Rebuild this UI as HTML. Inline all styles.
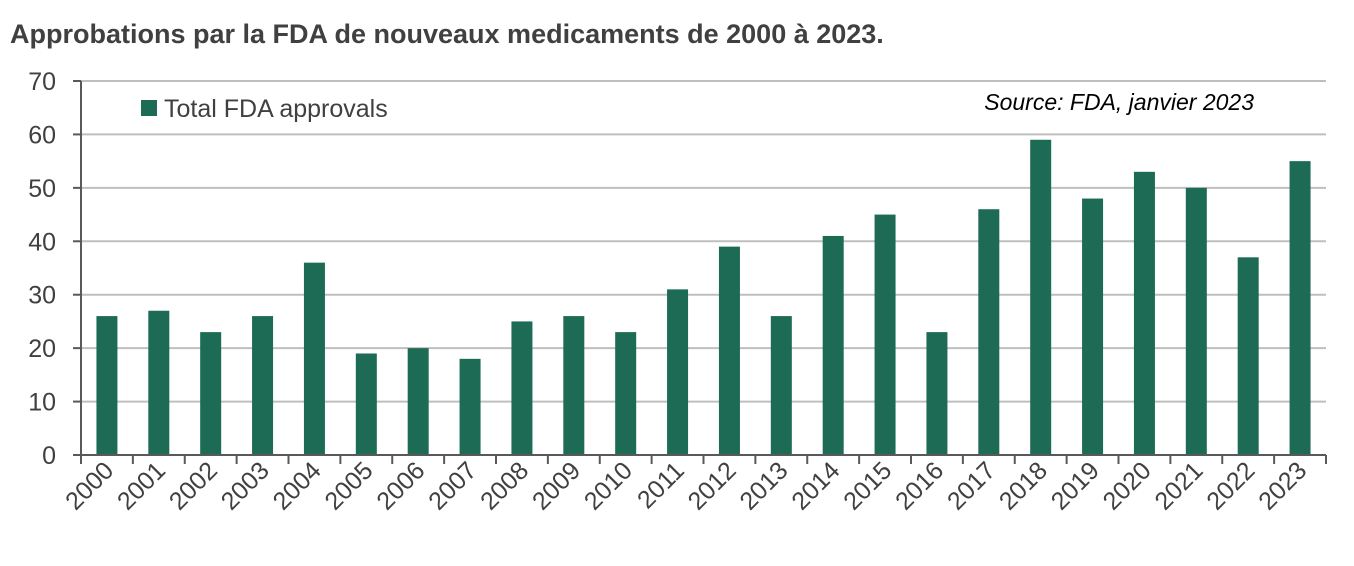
<!DOCTYPE html>
<html><head><meta charset="utf-8"><style>
body{margin:0;background:#fff;width:1354px;height:561px;overflow:hidden;font-family:"Liberation Sans",Arial,sans-serif}
</style></head><body>
<svg width="1354" height="561" xmlns="http://www.w3.org/2000/svg">
<text x="10" y="43" font-size="27" font-weight="bold" fill="#404040">Approbations par la FDA de nouveaux medicaments de 2000 à 2023.</text>
<g id="grid"></g><g id="bars"></g><g id="axes"></g>
<rect x="141" y="100" width="16" height="16" fill="#1d6a55"/>
<text x="164" y="117" font-size="25" fill="#404040">Total FDA approvals</text>
<text x="1254" y="110" font-size="23" font-style="italic" fill="#000" text-anchor="end">Source: FDA, janvier 2023</text>
</svg>
<script>
const categories=["2000","2001","2002","2003","2004","2005","2006","2007","2008","2009","2010","2011","2012","2013","2014","2015","2016","2017","2018","2019","2020","2021","2022","2023"];
const values=[26,27,23,26,36,19,20,18,25,26,23,31,39,26,41,45,23,46,59,48,53,50,37,55];
const yTicks=[0,10,20,30,40,50,60,70];
const NS="http://www.w3.org/2000/svg";
const x0=81,x1=1326,y0=455,y70=81;
const band=(x1-x0)/categories.length;
const yS=v=>y0-(v/70)*(y0-y70);
const xS=i=>x0+band*i;
function mk(tag,attrs,parent,txt){const e=document.createElementNS(NS,tag);for(const k in attrs)e.setAttribute(k,attrs[k]);if(txt!==undefined)e.textContent=txt;document.getElementById(parent).appendChild(e);return e;}
yTicks.forEach(t=>{
  if(t>0){const g=mk('line',{x1:x0,x2:x1,y1:yS(t),y2:yS(t),stroke:'#bfbfbf','stroke-width':2},'grid');
  
  }
  const tk=mk('line',{x1:x0-8,x2:x0,y1:yS(t),y2:yS(t),stroke:'#595959','stroke-width':2},'axes');
  
  
  const l=mk('text',{x:56,y:yS(t)+9,'font-size':25,fill:'#404040','text-anchor':'end'},'axes',String(t));
  
  
});
values.forEach((v,i)=>{
  const w=21,cx=xS(i)+band/2;
  const b=mk('rect',{x:cx-w/2,y:yS(v),width:w,height:y0-yS(v),fill:'#1d6a55'},'bars');
  
  
});
const ya=mk('line',{x1:x0,x2:x0,y1:y70,y2:y0,stroke:'#595959','stroke-width':2},'axes');


const xa=mk('line',{x1:x0-8,x2:x1,y1:y0,y2:y0,stroke:'#595959','stroke-width':2},'axes');


for(let i=0;i<=categories.length;i++){
  const t=mk('line',{x1:xS(i),x2:xS(i),y1:y0,y2:y0+9,stroke:'#595959','stroke-width':2},'axes');
  
  
}
categories.forEach((c,i)=>{
  const cx=xS(i)+band/2+8,cy=472;
  const l=mk('text',{x:cx,y:cy,'font-size':25,fill:'#404040','text-anchor':'end',transform:`rotate(-45 ${cx} ${cy})`},'axes',c);
  
  
});
</script>
</body></html>
